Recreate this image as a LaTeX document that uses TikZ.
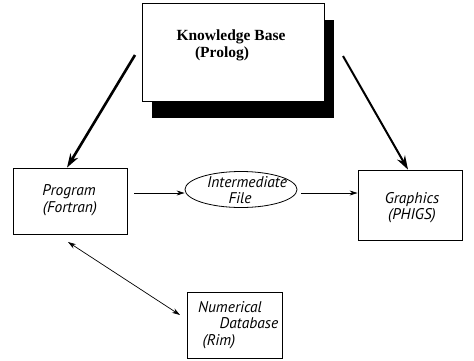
\documentclass[tikz,border=0pt]{standalone}
\usepackage{fontspec}
\setmainfont{Liberation Serif}
\newfontfamily\itsans{PT Sans}
\usetikzlibrary{arrows.meta,shapes.geometric}
\begin{document}
\begin{tikzpicture}[x=1pt,y=-1pt,
  box/.style={draw,line width=0.8pt,fill=white,inner sep=0pt},
  lbl/.style={font=\itsans\itshape\fontsize{15.5}{17}\selectfont,inner sep=0pt,anchor=base},
  kblbl/.style={font=\bfseries\fontsize{15.5}{17}\selectfont,inner sep=0pt,anchor=base},
  smallarrow/.style={line width=0.7pt,-{Stealth[length=8pt,width=5pt]}},
  bigarrow/.style={line width=2.6pt,-{Stealth[length=14pt,width=9pt]}}]
\useasboundingbox (0,0) rectangle (474,360);
% knowledge base with shadow
\fill (152,20) rectangle (334,118);
\node[box,minimum width=182pt,minimum height=98pt] (kb) at (233,52) {};
\node[kblbl] (kbt1) at (231,40) {Knowledge Base};
\node[kblbl] (kbt2) at (222,57) {(Prolog)};
% program
\node[box,minimum width=114pt,minimum height=66pt] (prog) at (70,201) {};
\node[lbl] (pt1) at (69,195) {Program};
\node[lbl] (pt2) at (70,212) {(Fortran)};
% intermediate file
\node[draw,line width=0.8pt,ellipse,minimum width=112pt,minimum height=36pt,inner sep=0pt] (ifile) at (241,189.5) {};
\node[lbl] (it1) at (247,187) {Intermediate};
\node[lbl] (it2) at (240,203) {File};
% graphics
\node[box,minimum width=104pt,minimum height=70pt] (gfx) at (410,205) {};
\node[lbl] (gt1) at (412,203) {Graphics};
\node[lbl] (gt2) at (412,219) {(PHIGS)};
% numerical database
\node[box,minimum width=95pt,minimum height=66pt] (ndb) at (235,325) {};
\node[lbl] (nt1) at (230,312) {Numerical};
\node[lbl] (nt2) at (249,328) {Database};
\node[lbl] (nt3) at (219,345) {(Rim)};
% connectors
\coordinate (a1) at (135,55);
\coordinate (a2) at (343,56);
\draw[bigarrow] (a1) -- (prog.north -| 67,0);
\draw[bigarrow,line width=2pt] (a2) -- (gfx.north -| 408,0);
\draw[smallarrow] (prog.east |- 0,193) ++(7,0) -- (ifile.west |- 0,193);
\draw[smallarrow] (ifile.east |- 0,193) ++(4,0) -- (gfx.west |- 0,193);
\coordinate (d1) at (68,242);
\coordinate (d2) at (180,315);
\draw[line width=0.7pt,{Stealth[length=8pt,width=5pt]}-{Stealth[length=8pt,width=5pt]}] (d1) -- (d2);
\end{tikzpicture}
\end{document}
